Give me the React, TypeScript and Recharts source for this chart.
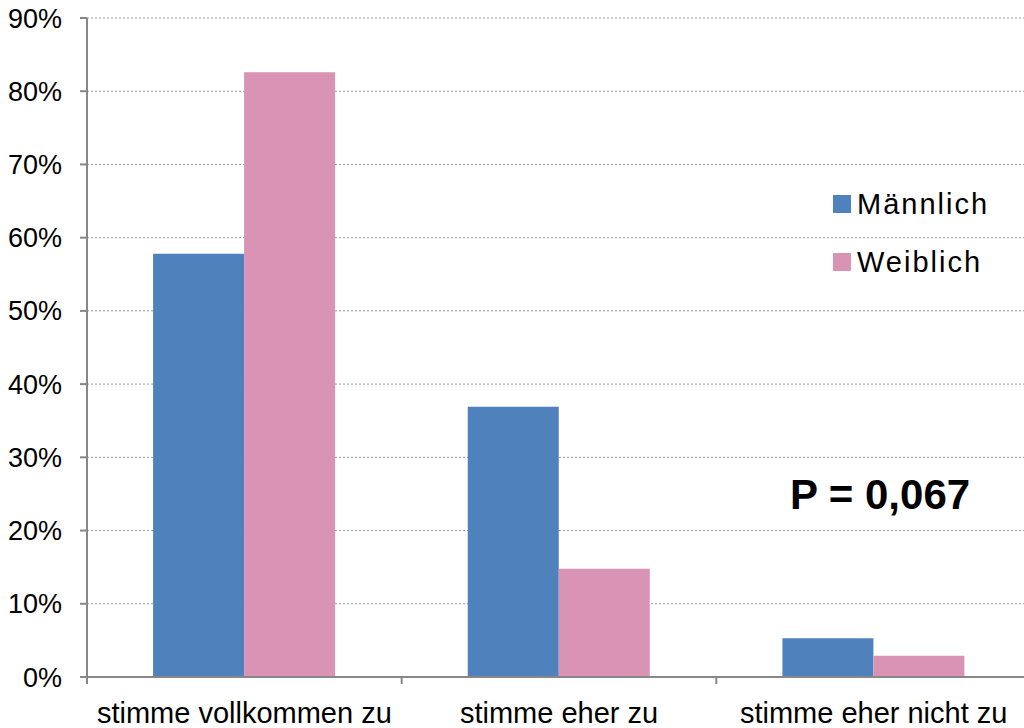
import React from "react"
import { BarChart, Bar, XAxis, YAxis, CartesianGrid, Legend } from "recharts"

const categories = ["stimme vollkommen zu", "stimme eher zu", "stimme eher nicht zu"]
const maennlich = [57.8, 36.9, 5.3]
const weiblich = [82.6, 14.8, 2.9]
const yTicks = [0, 10, 20, 30, 40, 50, 60, 70, 80, 90]

const data = categories.map((label, i) => ({
  label,
  m: maennlich[i],
  w: weiblich[i],
}))

const font = "'Liberation Sans', Arial, sans-serif"
const axisGrey = "#878787"

function LegendBox({ payload }: any) {
  return (
    <div style={{ fontFamily: font, fontSize: 29, color: "#000" }}>
      {(payload || []).map((p: any) => (
        <div key={p.value} style={{ display: "flex", alignItems: "center", height: 58 }}>
          <span style={{ width: 18, height: 18, background: p.color, marginRight: 6, display: "inline-block" }} />
          <span style={{ letterSpacing: 2 }}>{p.value}</span>
        </div>
      ))}
    </div>
  )
}

// category label plus tick marks on the band boundaries
function CategoryTick({ x, y, payload, index, visibleTicksCount }: any) {
  const half = payload?.offset ?? 0
  const last = index === (visibleTicksCount ?? categories.length) - 1
  return (
    <g>
      <line x1={x - half} x2={x - half} y1={y} y2={y + 7} stroke={axisGrey} strokeWidth={2} />
      {last && <line x1={x + half} x2={x + half} y1={y} y2={y + 7} stroke={axisGrey} strokeWidth={2} />}
      <text x={x} y={y + 25} dy="0.71em" textAnchor="middle" fontFamily={font} fontSize={29} fill="#000">
        {payload.value}
      </text>
    </g>
  )
}

export default function App() {
  return (
    <div style={{ position: "absolute", left: 0, top: 0, width: 1024, height: 728, overflow: "hidden", background: "#fff" }}>
      <BarChart
        width={1032}
        height={728}
        data={data}
        margin={{ top: 18, right: 1, left: 0, bottom: 0 }}
        barCategoryGap="21%"
        barGap={0}
      >
        <CartesianGrid vertical={false} stroke="#999" strokeDasharray="2 2" />
        <XAxis
          dataKey="label"
          height={51}
          axisLine={{ stroke: axisGrey, strokeWidth: 2 }}
          tickLine={false}
          tickSize={0}
          tickMargin={0}
          interval={0}
          tick={<CategoryTick />}
        />
        <YAxis
          width={87}
          domain={[0, 90]}
          ticks={yTicks}
          interval={0}
          tickFormatter={(v: number) => `${v}%`}
          tickSize={7}
          tickMargin={18}
          axisLine={{ stroke: axisGrey, strokeWidth: 2 }}
          tickLine={{ stroke: axisGrey, strokeWidth: 2 }}
          tick={{ fontFamily: font, fontSize: 27, fill: "#000" }}
        />
        <Legend
          layout="vertical"
          align="center"
          verticalAlign="middle"
          content={<LegendBox />}
          wrapperStyle={{ position: "absolute", left: 833, top: 175, width: 185 }}
        />
        <Bar dataKey="m" name="Männlich" fill="#4F81BD" isAnimationActive={false} />
        <Bar dataKey="w" name="Weiblich" fill="#D993B4" isAnimationActive={false} />
      </BarChart>
      <div
        style={{
          position: "absolute",
          left: 760,
          width: 240,
          top: 470,
          textAlign: "center",
          fontFamily: font,
          fontWeight: "bold",
          fontSize: 42,
          lineHeight: "50px",
          color: "#000",
        }}
      >
        P = 0,067
      </div>
    </div>
  )
}
